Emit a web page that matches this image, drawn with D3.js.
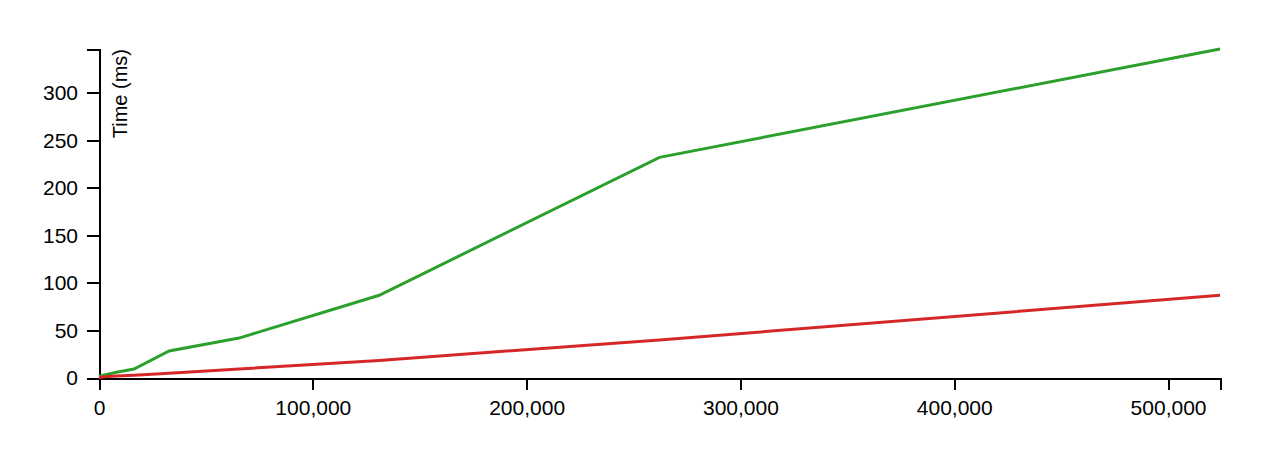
<!DOCTYPE html>
<html>
<head>
<meta charset="utf-8">
<style>
  html, body { margin: 0; padding: 0; background: #fff; }
  svg { display: block; }
  .axis text { font-family: "Liberation Sans", Arial, Helvetica, sans-serif; font-size: 21px; fill: #000; }
  .axis path, .axis line { stroke: #000; stroke-width: 2; fill: none; shape-rendering: crispEdges; }
  .label { font-family: "Liberation Sans", Arial, Helvetica, sans-serif; font-size: 20px; fill: #000; }
  .line { fill: none; stroke-width: 3; }
</style>
</head>
<body>
<svg id="chart" width="1280" height="473"></svg>
<script src="https://cdn.jsdelivr.net/npm/d3@7/dist/d3.min.js"></script>
<script>
// ---- data ----
const sizes      = [0, 1024, 2048, 4096, 8192, 16384, 32768, 65536, 131072, 262144, 524288];
const greenTimes = [2, 2.5, 3, 4, 6, 9.5, 28.4, 42, 87, 232, 346];
const redTimes   = [0.5, 0.8, 1, 1.5, 2, 3, 5, 9.5, 18.5, 40, 87];
const xTicks     = [0, 100000, 200000, 300000, 400000, 500000];
const yTicks     = [0, 50, 100, 150, 200, 250, 300];
const yLabel     = "Time (ms)";
const seriesColors = ["#2ca02c", "#d62728"];

// ---- layout ----
const W = 1280, H = 473;
const margin = {top: 49, right: 60, bottom: 95, left: 99};
const width = W - margin.left - margin.right;
const height = H - margin.top - margin.bottom;

const svg = d3.select("#chart");
const g = svg.append("g").attr("transform", `translate(${margin.left},${margin.top})`);

const x = d3.scaleLinear().domain([0, d3.max(sizes)]).range([0, width]);
const y = d3.scaleLinear().domain([0, d3.max(greenTimes)]).range([height, 0]);

const xAxis = d3.axisBottom(x).tickValues(xTicks).tickSize(12).tickPadding(6)
  .tickFormat(d3.format(","));
const yAxis = d3.axisLeft(y).tickValues(yTicks).tickSize(12).tickPadding(9);

g.append("g").attr("class", "axis x").attr("transform", `translate(0,${height})`).call(xAxis)
  .selectAll("text").attr("dy", "0.9em");
g.append("g").attr("class", "axis y").call(yAxis);

g.append("text").attr("class", "label")
  .attr("transform", "rotate(-90)")
  .attr("x", 0).attr("y", 14).attr("dy", "0.71em")
  .style("text-anchor", "end")
  .text(yLabel);

const line = d3.line().x(d => x(d[0])).y(d => y(d[1]));
const series = [greenTimes, redTimes];
series.forEach((vals, i) => {
  g.append("path").attr("class", "line")
    .datum(sizes.map((s, j) => [s, vals[j]]))
    .attr("stroke", seriesColors[i])
    .attr("d", line);
});
</script>
</body>
</html>
